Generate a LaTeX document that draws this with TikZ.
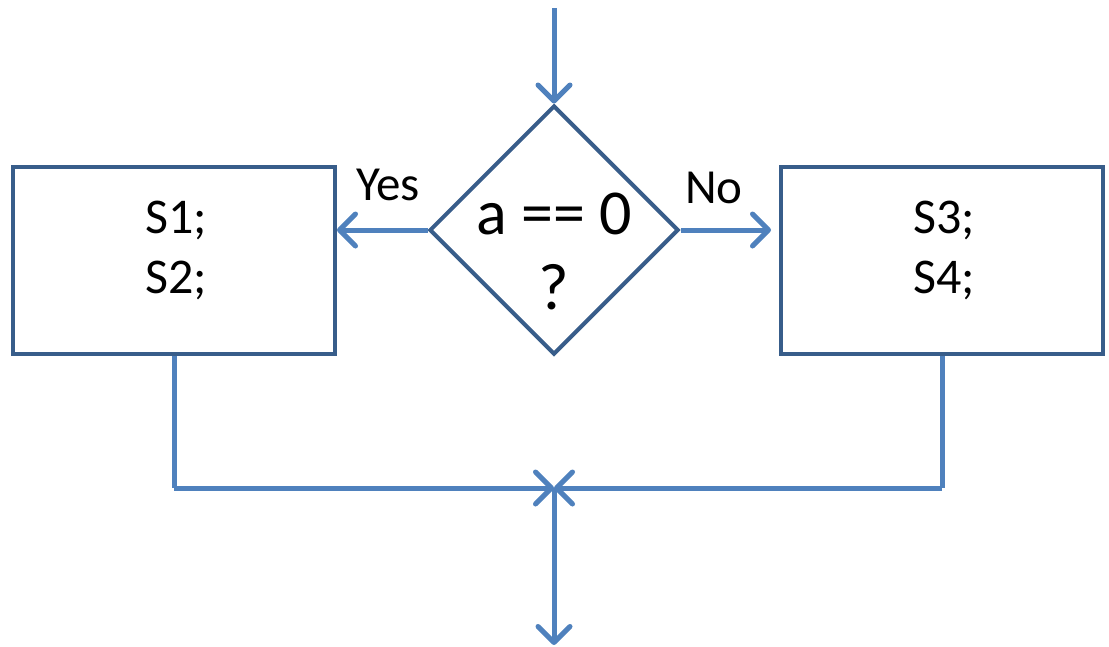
\documentclass[tikz,border=0pt]{standalone}
\usepackage{fontspec}
\setmainfont{Carlito}
\usetikzlibrary{shapes.geometric,arrows.meta,positioning,calc}
\definecolor{boxblue}{RGB}{56,93,138}
\definecolor{flowblue}{RGB}{79,129,189}

\begin{document}
\begin{tikzpicture}[x=1pt, y=-1pt,
    block/.style={rectangle, draw=boxblue, line width=4pt, minimum width=322pt,
                  minimum height=187pt, inner sep=0pt},
    stmt/.style={align=center, font=\fontsize{50}{60}\selectfont},
    decision/.style={diamond, draw=boxblue, line width=4pt, minimum width=249pt,
                     minimum height=249pt, inner sep=0pt},
    arrow/.style={-{Straight Barb[round, length=16pt, width=32pt]}, line width=5pt,
                  color=flowblue},
    line/.style={line width=5pt, color=flowblue},
    label/.style={font=\fontsize{49}{56}\selectfont}
]
\useasboundingbox (0,0) rectangle (1109,646);

% Decision and statement blocks
\node[decision] (test) at (554,230) {};
\node[font=\fontsize{64}{70}\selectfont] (cond) at (554,214) {a == 0};
\node[font=\fontsize{66}{70}\selectfont] (qmark) at (554,287) {?};
\node[block] (yesblk) at (174,260.5) {};
\node[block] (noblk) at (942,260.5) {};
\node[stmt] (yestxt) at (176,250) {S1;\\S2;};
\node[stmt] (notxt) at (944,250) {S3;\\S4;};

% Entry, merge and exit points
\coordinate (entry) at (554,8);
\coordinate (merge) at (554,488);
\coordinate (exit) at (554,645);

% Arrows
\draw[arrow] (entry) -- (test.north);
\draw[arrow] (test.west) -- (test.west -| yesblk.east);
\draw[arrow, shorten >=8pt] (test.east) -- (test.east -| noblk.west);
\draw[line] (yesblk.south) -- (yesblk.south |- merge);
\draw[arrow] (yesblk.south |- merge) -- (merge);
\draw[line] (noblk.south) -- (noblk.south |- merge);
\draw[arrow] (noblk.south |- merge) -- (merge);
\draw[arrow] (merge) -- (exit);

% Branch labels
\node[label] (yes) at (388,185) {Yes};
\node[label] (no) at (714,188) {No};

\end{tikzpicture}
\end{document}
